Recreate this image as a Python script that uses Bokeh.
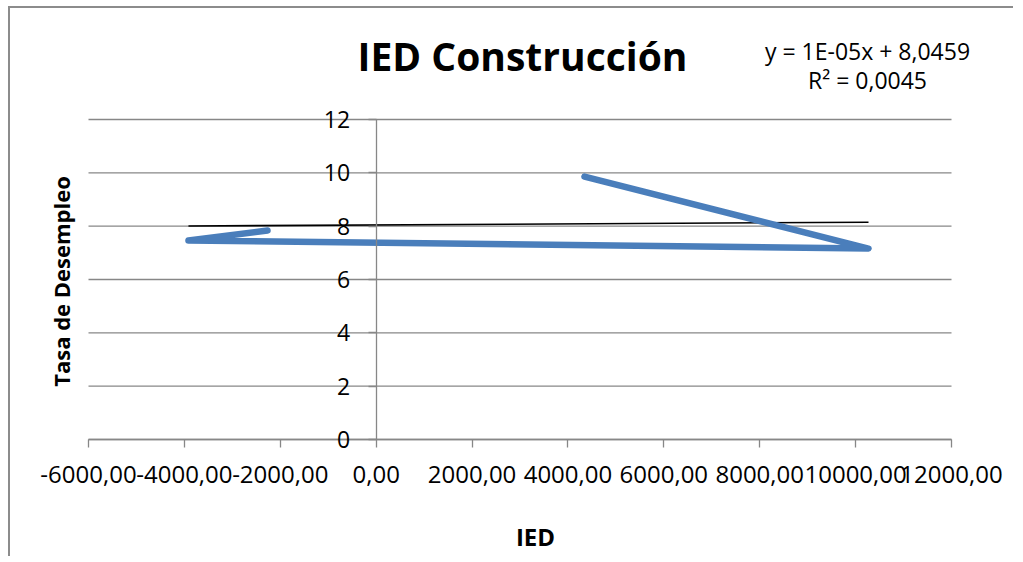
import math
from bokeh.plotting import figure
from bokeh.models import (Range1d, LinearAxis, FixedTicker, CustomJSTickFormatter,
                          Label)
from bokeh.embed import file_html
from bokeh.resources import INLINE

# ---- data ----
ied = [4345, 10269, -3915, -2267]          # IED (x)
tasa = [9.86, 7.16, 7.46, 7.84]            # Tasa de Desempleo (y)
x_ticks = [-6000, -4000, -2000, 0, 2000, 4000, 6000, 8000, 10000, 12000]
y_ticks = [0, 2, 4, 6, 8, 10, 12]
trend_slope = 1e-05
trend_intercept = 8.0459
title_text = "IED Construcción"
x_label = "IED"
y_label = "Tasa de Desempleo"
eq_lines = ["y = 1E-05x + 8,0459", "R² = 0,0045"]

FONT = "Open Sans"
GRID = "#878787"

# ---- layout geometry (page pixels) ----
CANVAS_L, CANVAS_T = 10, 8          # after css margin + border
CANVAS_W, CANVAS_H = 1003, 548
PLOT_L, PLOT_R = 88, 951            # x = -6000 .. 12000
PLOT_T, PLOT_B = 119, 439           # y = 12 .. 0

x_per_px = (x_ticks[-1] - x_ticks[0]) / (PLOT_R - PLOT_L)
y_per_px = (y_ticks[-1] - y_ticks[0]) / (PLOT_B - PLOT_T)


def fxp(page_x):
    return x_ticks[0] + (page_x - PLOT_L) * x_per_px


def fyp(page_y):
    return y_ticks[0] + (PLOT_B - page_y) * y_per_px


p = figure(frame_width=CANVAS_W, frame_height=CANVAS_H,
           x_range=Range1d(fxp(CANVAS_L), fxp(CANVAS_L + CANVAS_W)),
           y_range=Range1d(fyp(CANVAS_T + CANVAS_H), fyp(CANVAS_T)),
           x_axis_location=None, y_axis_location=None,
           output_backend="svg", toolbar_location=None,
           min_border=0,
           background_fill_color="white", border_fill_color="white",
           outline_line_color=None)
p.styles = {"margin-left": "8px", "margin-top": "6px",
            "border-top": "2px solid #8c8c8c", "border-left": "2px solid #8c8c8c"}
p.grid.visible = False

# horizontal gridlines across the plot area
p.segment(x0=[x_ticks[0]] * len(y_ticks), x1=[x_ticks[-1]] * len(y_ticks),
          y0=y_ticks, y1=y_ticks, line_color=GRID, line_width=1.3)

# x axis crossing at y = 0
xfix = LinearAxis(fixed_location=0, ticker=FixedTicker(ticks=x_ticks),
                  bounds=(x_ticks[0], x_ticks[-1]),
                  formatter=CustomJSTickFormatter(code="return tick.toFixed(2).replace('.', ',');"),
                  axis_line_color=GRID, axis_line_width=1.3,
                  major_tick_line_color=GRID, major_tick_line_width=1.3,
                  major_tick_in=0, major_tick_out=8,
                  minor_tick_line_color=None,
                  major_label_text_font=FONT, major_label_text_font_size="24px",
                  major_label_text_color="black", major_label_standoff=18)
p.add_layout(xfix, "below")

# y axis crossing at x = 0
yfix = LinearAxis(fixed_location=0, ticker=FixedTicker(ticks=y_ticks),
                  bounds=(y_ticks[0], y_ticks[-1]),
                  axis_line_color=GRID, axis_line_width=1.3,
                  major_tick_line_color=GRID, major_tick_line_width=1.3,
                  major_tick_in=0, major_tick_out=8,
                  minor_tick_line_color=None,
                  major_label_text_font=FONT, major_label_text_font_size="23px",
                  major_label_text_color="black", major_label_standoff=18)
p.add_layout(yfix, "left")

# trendline
tx = [min(ied), max(ied)]
ty = [trend_intercept + trend_slope * v for v in tx]
p.line(tx, ty, line_color="black", line_width=1.6)

# series
p.line(ied, tasa, line_color="#4a7ebb", line_width=6.5,
       line_join="round", line_cap="round")

# chart title
p.add_layout(Label(x=fxp(522), y=fyp(55), text=title_text, text_align="center",
                   text_baseline="middle", text_font=FONT, text_font_size="39px",
                   text_font_style="bold", text_color="black"))

# trendline equation
p.add_layout(Label(x=fxp(867), y=fyp(50), text=eq_lines[0], text_align="center",
                   text_baseline="middle", text_font=FONT, text_font_size="23px",
                   text_color="black"))
p.add_layout(Label(x=fxp(867), y=fyp(79), text=eq_lines[1], text_align="center",
                   text_baseline="middle", text_font=FONT, text_font_size="23px",
                   text_color="black"))

# axis titles
p.add_layout(Label(x=fxp(535), y=fyp(536), text=x_label, text_align="center",
                   text_baseline="middle", text_font=FONT, text_font_size="24px",
                   text_font_style="bold", text_color="black"))
p.add_layout(Label(x=fxp(60), y=fyp(281), text=y_label, angle=math.pi / 2,
                   text_align="center", text_baseline="middle",
                   text_font=FONT, text_font_size="22px",
                   text_font_style="bold", text_color="black"))

open("out.html", "w").write(file_html(p, INLINE))
